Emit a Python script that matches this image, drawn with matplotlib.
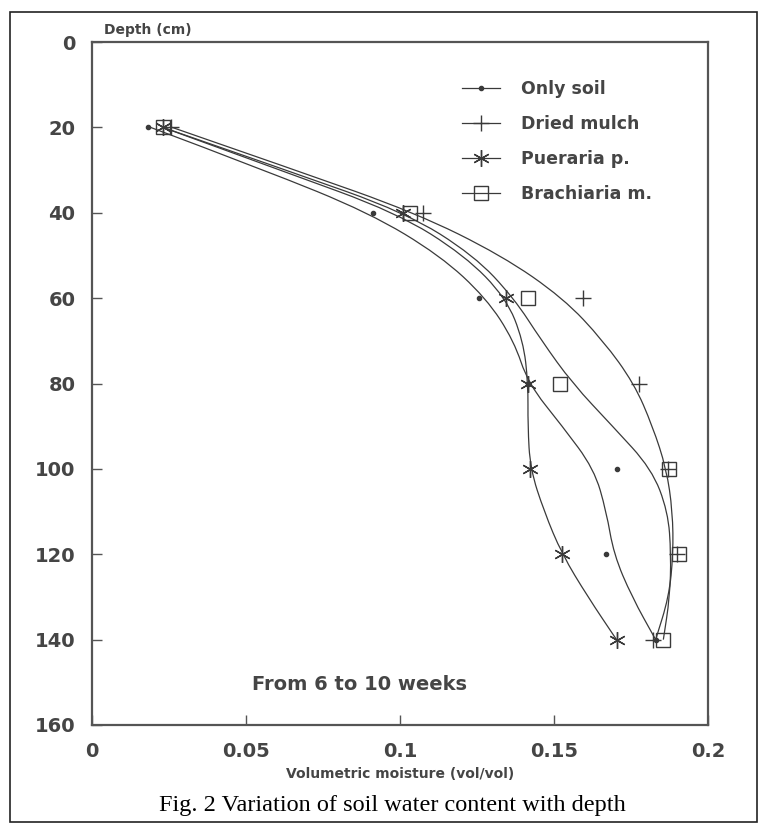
import matplotlib
matplotlib.use("Agg")
import matplotlib.pyplot as plt
from matplotlib.patches import Rectangle, PathPatch
from matplotlib.path import Path

# measured points (depth in cm, volumetric moisture)
depths = [20, 40, 60, 80, 100, 120, 140]
only_soil = [0.0183, 0.0913, 0.1255, 0.1416, 0.1703, 0.1668, 0.1832]
dried_mulch = [0.0258, 0.1074, 0.1594, 0.1777, 0.1870, 0.1900, 0.1823]
pueraria = [0.0230, 0.1010, 0.1345, 0.1416, 0.1423, 0.1526, 0.1703]
brachiaria = [0.0232, 0.1032, 0.1416, 0.1520, 0.1874, 0.1906, 0.1855]

# fitted curves
curve_depths = [20, 30, 40, 50, 60, 70, 80, 90, 100, 110, 120, 130, 140]
soil_curve = [0.019, 0.056, 0.090, 0.113, 0.128, 0.137, 0.1416, 0.1527, 0.163, 0.167, 0.1694, 0.1753, 0.183]
mulch_curve = [0.026, 0.066, 0.105, 0.133, 0.153, 0.166, 0.176, 0.182, 0.1865, 0.1885, 0.1887, 0.1873, 0.183]
pueraria_curve = [0.023, 0.061, 0.099, 0.121, 0.1345, 0.140, 0.1416, 0.1415, 0.1423, 0.1468, 0.1526, 0.161, 0.1703]
brachiaria_curve = [0.023, 0.063, 0.102, 0.124, 0.137, 0.146, 0.156, 0.169, 0.1817, 0.187, 0.188, 0.1876, 0.1855]

labels = ["Only soil", "Dried mulch", "Pueraria p.", "Brachiaria m."]
xticks = [0, 0.05, 0.1, 0.15, 0.2]
xtick_labels = ["0", "0.05", "0.1", "0.15", "0.2"]
yticks = [0, 20, 40, 60, 80, 100, 120, 140, 160]

ink = "#3a3a3a"
txt = "#454545"


def smooth_path(xs, ys):
    # quadratic bezier through the read points (points used as control points)
    verts = [(xs[0], ys[0])]
    codes = [Path.MOVETO]
    for i in range(1, len(xs) - 1):
        verts.append((xs[i], ys[i]))
        verts.append(((xs[i] + xs[i + 1]) / 2, (ys[i] + ys[i + 1]) / 2))
        codes += [Path.CURVE3, Path.CURVE3]
    verts.append((xs[-1], ys[-1]))
    codes.append(Path.LINETO)
    return Path(verts, codes)


W, H = 766, 836
fig = plt.figure(figsize=(W / 100, H / 100), dpi=100)
fig.patch.set_facecolor("white")

# outer frame of the scanned figure
fig.patches.append(Rectangle((10 / W, 1 - 822 / H), 747 / W, 810 / H, transform=fig.transFigure,
                             fill=False, edgecolor="#222222", linewidth=1.2))

ax = fig.add_axes([92 / W, 1 - 725 / H, 616 / W, 683 / H])

series = [
    (only_soil, soil_curve, dict(marker="o", markersize=3)),
    (dried_mulch, mulch_curve, dict(marker="+", markersize=12, markeredgewidth=1.0)),
    (pueraria, pueraria_curve, dict(marker=(6, 2, 0), markersize=12, markeredgewidth=1.0)),
    (brachiaria, brachiaria_curve, dict(marker="s", markersize=10, markerfacecolor="none", markeredgewidth=1.0)),
]
for (pts, curve, mk), lab in zip(series, labels):
    ax.add_patch(PathPatch(smooth_path(curve, curve_depths), fill=False, edgecolor=ink, linewidth=0.9))
    ax.plot(pts, depths, linestyle="none", color=ink, **mk)
    # legend handle: line + marker
    ax.plot([], [], color=ink, linewidth=0.9, label=lab, **mk)

ax.set_xlim(0, 0.2)
ax.set_ylim(160, 0)
ax.set_xticks(xticks)
ax.set_xticklabels(xtick_labels)
ax.set_yticks(yticks)
for s in ax.spines.values():
    s.set_color("#555555")
    s.set_linewidth(1.6)
ax.tick_params(direction="in", length=7, width=1.0, color="#555555",
               labelsize=14, labelcolor=txt)
for t in ax.get_xticklabels() + ax.get_yticklabels():
    t.set_fontweight("bold")
ax.tick_params(axis="y", pad=12)
ax.tick_params(axis="x", pad=12)

handles, labs = ax.get_legend_handles_labels()
leg = ax.legend(handles[-4:], labs[-4:], loc="upper left", bbox_to_anchor=(0.575, 0.967),
                frameon=False, handlelength=2.2, labelspacing=0.98,
                handletextpad=1.2, labelcolor=txt, prop={"weight": "bold", "size": 12.5})

ax.text(0.02, 1.008, "Depth (cm)", transform=ax.transAxes, fontsize=10, fontweight="bold",
        color=txt, ha="left", va="bottom")
ax.text(0.5, -0.072, "Volumetric moisture (vol/vol)", transform=ax.transAxes, fontsize=10,
        fontweight="bold", color=txt, ha="center", va="center")
ax.text(0.052, 150.5, "From 6 to 10 weeks", fontsize=14, fontweight="bold", color=txt,
        ha="left", va="center")

fig.text(392 / W, 1 - 805 / H, "Fig. 2 Variation of soil water content with depth",
         family="Liberation Serif", fontsize=17.5, ha="center", va="center", color="black")

fig.savefig("out.png", dpi=100)
